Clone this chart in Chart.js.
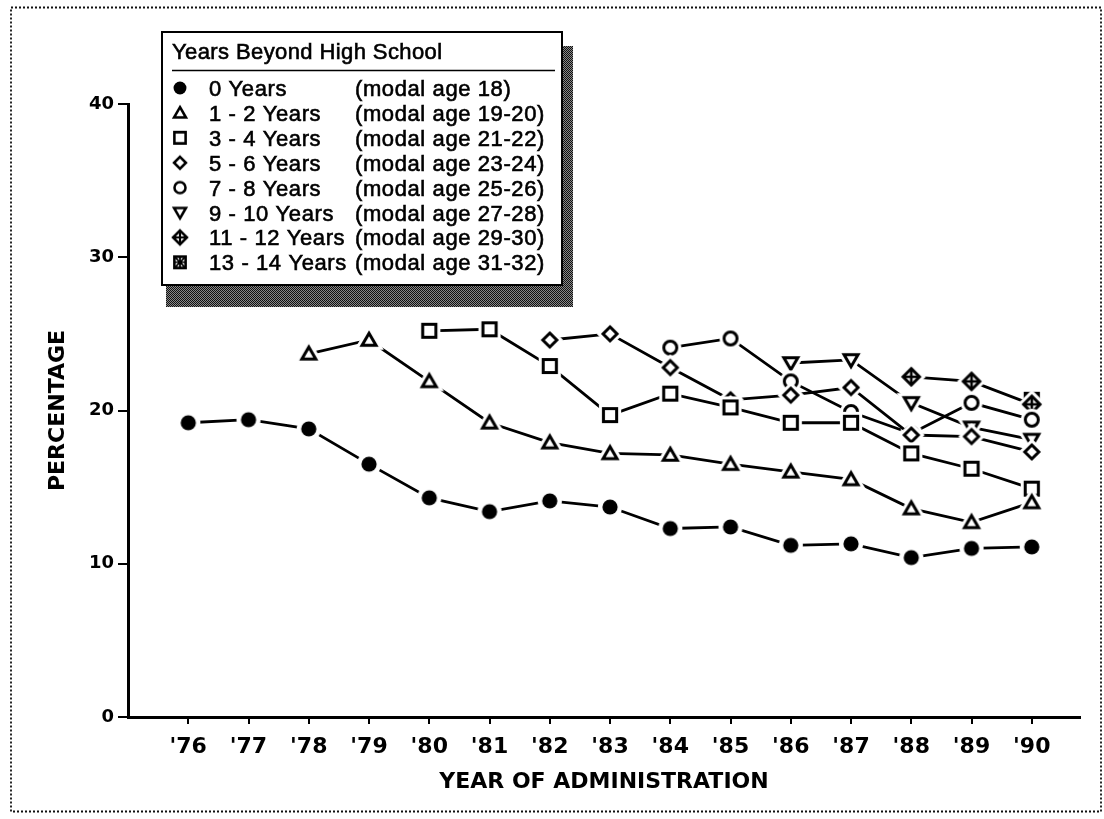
<!DOCTYPE html>
<html>
<head>
<meta charset="utf-8">
<script src="https://cdn.jsdelivr.net/npm/chart.js@4.4.1/dist/chart.umd.min.js"></script>
<style>
  html, body { margin: 0; padding: 0; background: #fff; }
  #wrap { width: 1104px; height: 819px; position: relative; }
</style>
</head>
<body>
<div id="wrap"><canvas id="c" width="1104" height="819"></canvas></div>
<script>
// Administration years and their axis labels
const years = [1976, 1977, 1978, 1979, 1980, 1981, 1982, 1983, 1984, 1985, 1986, 1987, 1988, 1989, 1990];
const yearLabels = ["'76", "'77", "'78", "'79", "'80", "'81", "'82", "'83", "'84", "'85", "'86", "'87", "'88", "'89", "'90"];
const yTicks = [0, 10, 20, 30, 40];

const legendTitle = 'Years Beyond High School';
const xTitle = 'YEAR OF ADMINISTRATION';
const yTitle = 'PERCENTAGE';

const seriesNames = ['0 Years', '1 - 2 Years', '3 - 4 Years', '5 - 6 Years', '7 - 8 Years', '9 - 10 Years', '11 - 12 Years', '13 - 14 Years'];
const modalAges = ['(modal age 18)', '(modal age 19-20)', '(modal age 21-22)', '(modal age 23-24)', '(modal age 25-26)', '(modal age 27-28)', '(modal age 29-30)', '(modal age 31-32)'];

// Percentages by cohort, one value per administration year (null = not yet surveyed)
const years0 = [19.2, 19.4, 18.8, 16.5, 14.3, 13.4, 14.1, 13.7, 12.3, 12.4, 11.2, 11.3, 10.4, 11.0, 11.1];
const years1to2 = [null, null, 23.7, 24.6, 21.9, 19.2, 17.9, 17.2, 17.1, 16.5, 16.0, 15.5, 13.6, 12.7, 14.0];
const years3to4 = [null, null, null, null, 25.2, 25.3, 22.9, 19.7, 21.1, 20.2, 19.2, 19.2, 17.2, 16.2, 14.9];
const years5to6 = [null, null, null, null, null, null, 24.6, 25.0, 22.8, 20.7, 21.0, 21.5, 18.4, 18.3, 17.3];
const years7to8 = [null, null, null, null, null, null, null, null, 24.1, 24.7, 21.9, 19.9, 18.5, 20.5, 19.4];
const years9to10 = [null, null, null, null, null, null, null, null, null, null, 23.1, 23.3, 20.5, 18.9, 18.1];
const years11to12 = [null, null, null, null, null, null, null, null, null, null, null, null, 22.2, 21.9, 20.4];
const years13to14 = [null, null, null, null, null, null, null, null, null, null, null, null, null, null, 20.7];

const seriesValues = [years0, years1to2, years3to4, years5to6, years7to8, years9to10, years11to12, years13to14];
const markerKinds = ['dot', 'triangle', 'square', 'diamond', 'circle', 'invTriangle', 'crossDiamond', 'boxX'];

// Marker glyphs drawn on small canvases, with a white halo so lines stop short of the symbol
function makeMarker(kind, scale) {
  const S = 36;
  const c = document.createElement('canvas');
  c.width = S; c.height = S;
  const g = c.getContext('2d');
  g.translate(S / 2, S / 2);
  g.scale(scale, scale);
  const lw = 3;
  const halo = 3;
  function path() {
    g.beginPath();
    switch (kind) {
      case 'dot': g.arc(0, 0, 7.6, 0, Math.PI * 2); break;
      case 'circle': g.arc(0, 0, 6.5, 0, Math.PI * 2); break;
      case 'triangle': g.moveTo(0, -6.8); g.lineTo(7, 5.3); g.lineTo(-7, 5.3); g.closePath(); break;
      case 'invTriangle': g.moveTo(0, 6.8); g.lineTo(7, -5.3); g.lineTo(-7, -5.3); g.closePath(); break;
      case 'square': g.rect(-6.6, -6.6, 13.2, 13.2); break;
      case 'boxX': g.rect(-6.6, -6.6, 13.2, 13.2); break;
      case 'diamond': g.moveTo(0, -7); g.lineTo(7, 0); g.lineTo(0, 7); g.lineTo(-7, 0); g.closePath(); break;
      case 'crossDiamond': g.moveTo(0, -8.2); g.lineTo(8.2, 0); g.lineTo(0, 8.2); g.lineTo(-8.2, 0); g.closePath(); break;
    }
  }
  g.lineJoin = 'miter';
  path();
  g.fillStyle = '#fff';
  g.fill();
  g.strokeStyle = '#fff';
  g.lineWidth = lw + halo * 2;
  g.stroke();

  path();
  if (kind === 'dot') {
    g.fillStyle = '#000';
    g.fill();
  } else {
    g.fillStyle = '#fff';
    g.fill();
    g.strokeStyle = '#000';
    g.lineWidth = lw;
    g.stroke();
  }
  if (kind === 'crossDiamond') {
    g.beginPath();
    g.moveTo(0, -8.2); g.lineTo(0, 8.2);
    g.moveTo(-8.2, 0); g.lineTo(8.2, 0);
    g.lineWidth = 2.6;
    g.stroke();
  }
  if (kind === 'boxX') {
    g.beginPath();
    g.moveTo(-6.6, -6.6); g.lineTo(6.6, 6.6);
    g.moveTo(6.6, -6.6); g.lineTo(-6.6, 6.6);
    g.moveTo(0, -6.6); g.lineTo(0, 6.6);
    g.moveTo(-6.6, 0); g.lineTo(6.6, 0);
    g.lineWidth = 2;
    g.stroke();
  }
  return c;
}

const markers = markerKinds.map(k => makeMarker(k, 1));
const legendMarkers = markerKinds.map(k => makeMarker(k, 0.85));

const datasets = seriesValues.map((vals, i) => ({
  label: seriesNames[i],
  data: vals.map((v, j) => (v === null ? null : { x: years[j], y: v })).filter(p => p !== null),
  borderColor: '#000',
  backgroundColor: '#000',
  borderWidth: 2.8,
  borderCapStyle: 'butt',
  pointStyle: markers[i],
  pointRadius: 8,
  pointHoverRadius: 8,
  tension: 0,
  fill: false,
  clip: false
}));

const FONT_BOLD = 'DejaVu Sans';
const FONT_TEXT = '"Liberation Sans", Arial, Helvetica, sans-serif';

// White page with a dotted frame
const framePlugin = {
  id: 'frame',
  beforeDraw(chart) {
    const ctx = chart.ctx;
    ctx.save();
    ctx.fillStyle = '#fff';
    ctx.fillRect(0, 0, chart.width, chart.height);
    ctx.strokeStyle = '#111';
    ctx.lineWidth = 1.8;
    ctx.setLineDash([2, 2]);
    ctx.strokeRect(11, 7.5, 1090, 804);
    ctx.restore();
  }
};

// Boxed legend with a halftone drop shadow and two text columns
const legendBoxPlugin = {
  id: 'legendBox',
  afterDraw(chart) {
    const ctx = chart.ctx;
    const bx = 162, by = 32, bw = 400, bh = 253;
    ctx.save();

    // halftone shadow
    const pc = document.createElement('canvas');
    pc.width = 2; pc.height = 2;
    const pg = pc.getContext('2d');
    pg.fillStyle = '#888'; pg.fillRect(0, 0, 2, 2);
    pg.fillStyle = '#111'; pg.fillRect(0, 0, 1, 1); pg.fillRect(1, 1, 1, 1);
    ctx.fillStyle = ctx.createPattern(pc, 'repeat');
    ctx.fillRect(bx + 4, by + 14, bw + 7, bh + 8);

    // box
    ctx.fillStyle = '#fff';
    ctx.fillRect(bx, by, bw, bh);
    ctx.strokeStyle = '#000';
    ctx.lineWidth = 2;
    ctx.strokeRect(bx, by, bw, bh);

    // title and rule
    ctx.fillStyle = '#000';
    ctx.strokeStyle = '#000';
    ctx.textBaseline = 'alphabetic';
    ctx.textAlign = 'left';
    ctx.font = '22px ' + FONT_TEXT;
    try { ctx.letterSpacing = '0.4px'; } catch (e) {}
    ctx.lineWidth = 0.6;
    ctx.fillText(legendTitle, 172, 59);
    ctx.strokeText(legendTitle, 172, 59);
    ctx.beginPath();
    ctx.moveTo(172, 70.5);
    ctx.lineTo(555, 70.5);
    ctx.lineWidth = 1.5;
    ctx.stroke();

    // rows
    try { ctx.letterSpacing = '0.6px'; } catch (e) {}
    chart.data.datasets.forEach((ds, i) => {
      const cy = 88 + i * 24.9;
      const m = legendMarkers[i];
      ctx.drawImage(m, 180 - m.width / 2, cy - m.height / 2);
      ctx.fillStyle = '#000';
      ctx.lineWidth = 0.6;
      ctx.fillText(seriesNames[i], 209, cy + 8);
      ctx.strokeText(seriesNames[i], 209, cy + 8);
      ctx.fillText(modalAges[i], 355, cy + 8);
      ctx.strokeText(modalAges[i], 355, cy + 8);
    });
    ctx.restore();
  }
};

new Chart(document.getElementById('c'), {
  type: 'line',
  data: { datasets },
  options: {
    responsive: false,
    animation: false,
    events: [],
    layout: { padding: { top: 104, right: 24, left: 0, bottom: 0 } },
    plugins: { legend: { display: false }, tooltip: { enabled: false } },
    scales: {
      x: {
        type: 'linear',
        min: 1975,
        max: 1990.8,
        afterBuildTicks: s => { s.ticks = years.map(v => ({ value: v })); },
        afterFit: s => { s.height = 102; },
        ticks: {
          callback: v => yearLabels[years.indexOf(v)],
          font: { family: FONT_BOLD, weight: 'bold', size: 22 },
          color: '#000',
          padding: 10,
          maxRotation: 0,
          autoSkip: false
        },
        grid: { drawOnChartArea: false, drawTicks: true, tickLength: 7, color: '#000', lineWidth: 2 },
        border: { display: true, color: '#000', width: 3 },
        title: {
          display: true,
          text: xTitle,
          color: '#000',
          font: { family: FONT_BOLD, weight: 'bold', size: 22 },
          padding: { top: 0, bottom: 24 }
        }
      },
      y: {
        min: 0,
        max: 40,
        afterBuildTicks: s => { s.ticks = yTicks.map(v => ({ value: v })); },
        afterFit: s => { s.width = 128; },
        ticks: {
          font: { family: FONT_BOLD, weight: 'bold', size: 18 },
          color: '#000',
          padding: 4
        },
        grid: { drawOnChartArea: false, drawTicks: true, tickLength: 10, color: '#000', lineWidth: 2 },
        border: { display: true, color: '#000', width: 3 },
        title: {
          display: true,
          text: yTitle,
          color: '#000',
          font: { family: FONT_BOLD, weight: 'bold', size: 22 },
          padding: { top: 45, bottom: 0 }
        }
      }
    }
  },
  plugins: [framePlugin, legendBoxPlugin]
});
</script>
</body>
</html>
